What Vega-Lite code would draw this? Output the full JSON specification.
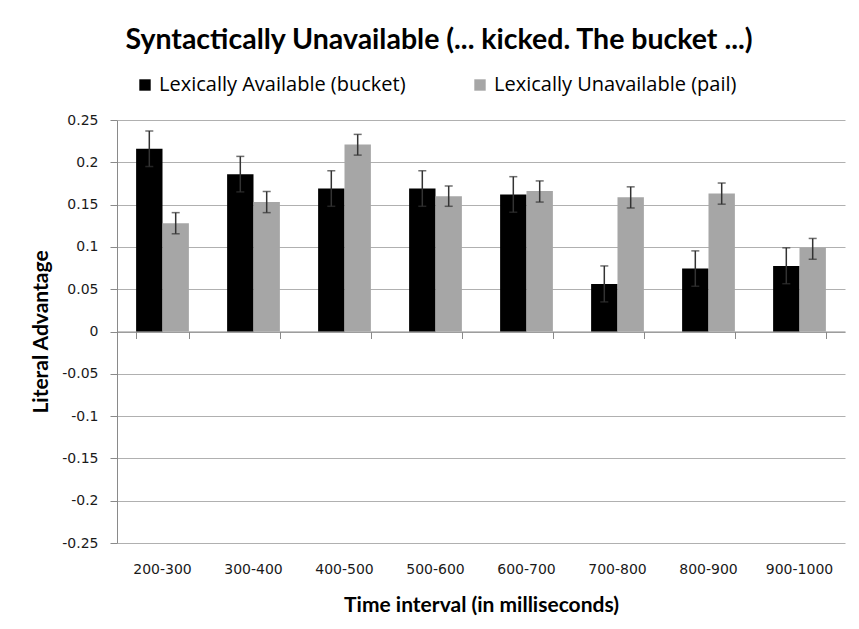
{
  "$schema": "https://vega.github.io/schema/vega-lite/v6.json",
  "width": 728,
  "height": 423,
  "autosize": "none",
  "padding": {"left": 117, "top": 120, "right": 14, "bottom": 86},
  "background": "white",
  "config": {
    "view": {"stroke": null},
    "axisY": {"labelFont": "DejaVu Sans", "labelFontSize": 14, "labelColor": "#1a1a1a", "labelPadding": 12}
  },
  "title": {
    "text": "Syntactically Unavailable (... kicked. The bucket ...)",
    "font": "Lato",
    "fontWeight": "bold",
    "fontSize": 28.5,
    "color": "#000000",
    "anchor": "middle",
    "dx": -42,
    "offset": 21
  },
  "data": {
    "values": [
      {"interval": "200-300", "series": "Lexically Available (bucket)", "value": 0.216, "lo": 0.195, "hi": 0.237},
      {"interval": "200-300", "series": "Lexically Unavailable (pail)", "value": 0.128, "lo": 0.1155, "hi": 0.1405},
      {"interval": "300-400", "series": "Lexically Available (bucket)", "value": 0.186, "lo": 0.165, "hi": 0.207},
      {"interval": "300-400", "series": "Lexically Unavailable (pail)", "value": 0.153, "lo": 0.1405, "hi": 0.1655},
      {"interval": "400-500", "series": "Lexically Available (bucket)", "value": 0.169, "lo": 0.148, "hi": 0.19},
      {"interval": "400-500", "series": "Lexically Unavailable (pail)", "value": 0.221, "lo": 0.2085, "hi": 0.233},
      {"interval": "500-600", "series": "Lexically Available (bucket)", "value": 0.169, "lo": 0.148, "hi": 0.19},
      {"interval": "500-600", "series": "Lexically Unavailable (pail)", "value": 0.16, "lo": 0.148, "hi": 0.172},
      {"interval": "600-700", "series": "Lexically Available (bucket)", "value": 0.162, "lo": 0.141, "hi": 0.183},
      {"interval": "600-700", "series": "Lexically Unavailable (pail)", "value": 0.166, "lo": 0.153, "hi": 0.178},
      {"interval": "700-800", "series": "Lexically Available (bucket)", "value": 0.056, "lo": 0.035, "hi": 0.0775},
      {"interval": "700-800", "series": "Lexically Unavailable (pail)", "value": 0.1586, "lo": 0.146, "hi": 0.171},
      {"interval": "800-900", "series": "Lexically Available (bucket)", "value": 0.0744, "lo": 0.0535, "hi": 0.0953},
      {"interval": "800-900", "series": "Lexically Unavailable (pail)", "value": 0.163, "lo": 0.1505, "hi": 0.1755},
      {"interval": "900-1000", "series": "Lexically Available (bucket)", "value": 0.0775, "lo": 0.0565, "hi": 0.0989},
      {"interval": "900-1000", "series": "Lexically Unavailable (pail)", "value": 0.0989, "lo": 0.0854, "hi": 0.11}
    ]
  },
  "resolve": {"axis": {"x": "independent"}},
  "layer": [
    {
      "mark": {"type": "bar"},
      "encoding": {
        "x": {
          "field": "interval",
          "type": "nominal",
          "sort": null,
          "scale": {"paddingInner": 0.42, "paddingOuter": 0.21},
          "axis": {
            "orient": "bottom",
            "domain": false,
            "ticks": false,
            "grid": false,
            "labelAngle": 0,
            "labelFont": "DejaVu Sans",
            "labelFontSize": 14,
            "labelColor": "#1a1a1a",
            "labelPadding": 19,
            "title": "Time interval (in milliseconds)",
            "titleFont": "Lato",
            "titleFontSize": 21,
            "titleFontWeight": "bold",
            "titleColor": "#000000",
            "titlePadding": 18
          }
        },
        "xOffset": {"field": "series", "type": "nominal", "sort": null},
        "y": {
          "field": "value",
          "type": "quantitative",
          "title": "Literal Advantage",
          "scale": {"domain": [-0.25, 0.25], "nice": false, "zero": true},
          "axis": {
            "values": [-0.25, -0.2, -0.15, -0.1, -0.05, 0, 0.05, 0.1, 0.15, 0.2, 0.25],
            "labelExpr": "datum.value < 0 ? '-' + format(-datum.value, '~g') : format(datum.value, '~g')",
            "grid": true,
            "gridColor": "#b0b0b0",
            "gridWidth": 1,
            "domainColor": "#8a8a8a",
            "tickColor": "#8a8a8a",
            "tickSize": 7,
            "labelPadding": 12,
            "titleFont": "Lato",
            "titleFontSize": 21,
            "titleFontWeight": "bold",
            "titleColor": "#000000",
            "titlePadding": 10
          }
        },
        "color": {
          "field": "series",
          "type": "nominal",
          "sort": null,
          "scale": {"range": ["#000000", "#a6a6a6"]},
          "legend": {
            "orient": "none",
            "legendX": 18,
            "legendY": -45,
            "direction": "horizontal",
            "columns": 2,
            "title": null,
            "symbolType": "square",
            "symbolSize": 130,
            "symbolStrokeWidth": 0,
            "labelFont": "Open Sans",
            "labelFontSize": 20,
            "labelColor": "#000000",
            "labelOffset": 4,
            "columnPadding": 64,
            "labelLimit": 400
          }
        }
      }
    },
    {
      "mark": {"type": "rule", "color": "#333333", "strokeWidth": 1.5},
      "encoding": {
        "x": {
          "field": "interval",
          "type": "nominal",
          "sort": null,
          "axis": {
            "orient": "bottom",
            "offset": -211.5,
            "labels": false,
            "title": null,
            "grid": false,
            "domain": true,
            "domainColor": "#8a8a8a",
            "ticks": true,
            "tickBand": "extent",
            "tickColor": "#8a8a8a",
            "tickSize": 7
          }
        },
        "xOffset": {"field": "series", "type": "nominal", "sort": null},
        "y": {"field": "lo", "type": "quantitative", "title": "Literal Advantage"},
        "y2": {"field": "hi"}
      }
    },
    {
      "mark": {"type": "tick", "color": "#333333", "thickness": 1.5, "size": 8, "orient": "horizontal"},
      "encoding": {
        "x": {"field": "interval", "type": "nominal", "sort": null, "axis": null},
        "xOffset": {"field": "series", "type": "nominal", "sort": null},
        "y": {"field": "lo", "type": "quantitative", "title": "Literal Advantage"}
      }
    },
    {
      "mark": {"type": "tick", "color": "#333333", "thickness": 1.5, "size": 8, "orient": "horizontal"},
      "encoding": {
        "x": {"field": "interval", "type": "nominal", "sort": null, "axis": null},
        "xOffset": {"field": "series", "type": "nominal", "sort": null},
        "y": {"field": "hi", "type": "quantitative", "title": "Literal Advantage"}
      }
    }
  ]
}
